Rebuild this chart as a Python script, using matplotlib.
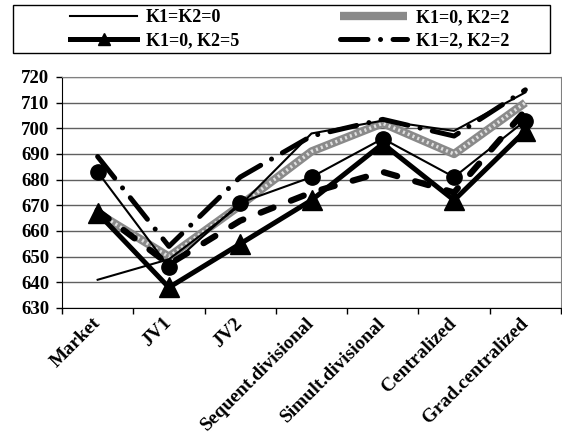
import matplotlib
matplotlib.use("Agg")
import matplotlib.pyplot as plt
import matplotlib.transforms as mtransforms
from matplotlib.patches import Rectangle

plt.rcParams['font.family'] = ['Liberation Serif', 'DejaVu Serif']
plt.rcParams['font.weight'] = 'bold'

categories = ["Market", "JV1", "JV2", "Sequent.divisional", "Simult.divisional",
              "Centralized", "Grad.centralized"]

k00 = [641, 649, 670, 698, 703, 699, 714]      # K1=K2=0
k02 = [667, 650, 670, 691, 702, 690, 710]      # K1=0, K2=2
k05 = [667, 638, 655, 672, 694, 672, 699]      # K1=0, K2=5
k22 = [689, 654, 681, 697, 703.5, 697, 715]    # K1=2, K2=2
circ = [683, 646, 671, 681, 696, 681, 703]     # unlabeled series (circles)
dash = [668, 647, 664, 675, 683, 675, 707]     # unlabeled series (dashed)

W, H = 562, 437
fig = plt.figure(figsize=(W / 100, H / 100), dpi=100)
ax = fig.add_axes([62 / W, (H - 308) / H, 499 / W, 231 / H])

x = list(range(len(categories)))

# gray "textured" line
l2, = ax.plot(x, k02, color='#8a8a8a', lw=6, solid_capstyle='butt', zorder=2)
ax.plot(x, k02, color='#e0e0e0', lw=2.5, linestyle=(0, (0.6, 0.9)), zorder=2.1)
l1, = ax.plot(x, k00, color='black', lw=1.5, zorder=3)
ax.plot(x, dash, color='black', lw=4.5, linestyle=(0, (2.2, 3.0)),
        dash_capstyle='round', zorder=3)
l4, = ax.plot(x, k22, color='black', lw=3.6,
              linestyle=(0, (5.5, 2.5, 0.01, 2.5)), dash_capstyle='round', zorder=3)
ax.plot(x, circ, color='black', lw=1.5, marker='o', ms=11, zorder=4)
l3, = ax.plot(x, k05, color='black', lw=3.6, marker='^', ms=15, zorder=4)

ax.set_xlim(-0.5, len(categories) - 0.5)
ax.set_ylim(630, 720)
ax.set_yticks(range(630, 721, 10))
ax.yaxis.grid(True, color='#606060', lw=1)
ax.set_axisbelow(True)

ax.set_xticks([i - 0.5 for i in range(len(categories) + 1)])
ax.set_xticklabels([])
ax.set_xticks(x, minor=True)
ax.set_xticklabels(categories, minor=True, rotation=45, ha='right', va='center',
                   rotation_mode='anchor', fontsize=14, fontweight='bold')
shift = mtransforms.ScaledTranslation(5 / 100, 0, fig.dpi_scale_trans)
for lab in ax.get_xticklabels(minor=True):
    lab.set_transform(lab.get_transform() + shift)
ax.tick_params(axis='x', which='minor', length=0, pad=9)
ax.tick_params(axis='x', which='major', direction='out', length=4, width=1)
ax.tick_params(axis='y', direction='out', length=4, width=1, labelsize=13.5, pad=5)
for lab in ax.get_yticklabels():
    lab.set_fontweight('bold')

for s in ['top', 'right']:
    ax.spines[s].set_color('#808080')
for s in ['left', 'bottom']:
    ax.spines[s].set_color('black')

# legend (box drawn separately)
fig.patches.append(Rectangle((13 / W, 1 - 53 / H), (550 - 13) / W, 48 / H,
                             transform=fig.transFigure, fill=False,
                             edgecolor='black', lw=1))
fig.legend([l1, l3, l2, l4],
           ["K1=K2=0", "K1=0, K2=5", "K1=0, K2=2", "K1=2, K2=2"],
           ncol=2, frameon=False, loc='center',
           bbox_to_anchor=(290 / W, 1 - 29 / H),
           prop={'size': 13, 'weight': 'bold'},
           handlelength=3.7, handletextpad=0.5, columnspacing=5.6,
           labelspacing=0.35, markerscale=0.6)

fig.savefig("out.png", dpi=100)
